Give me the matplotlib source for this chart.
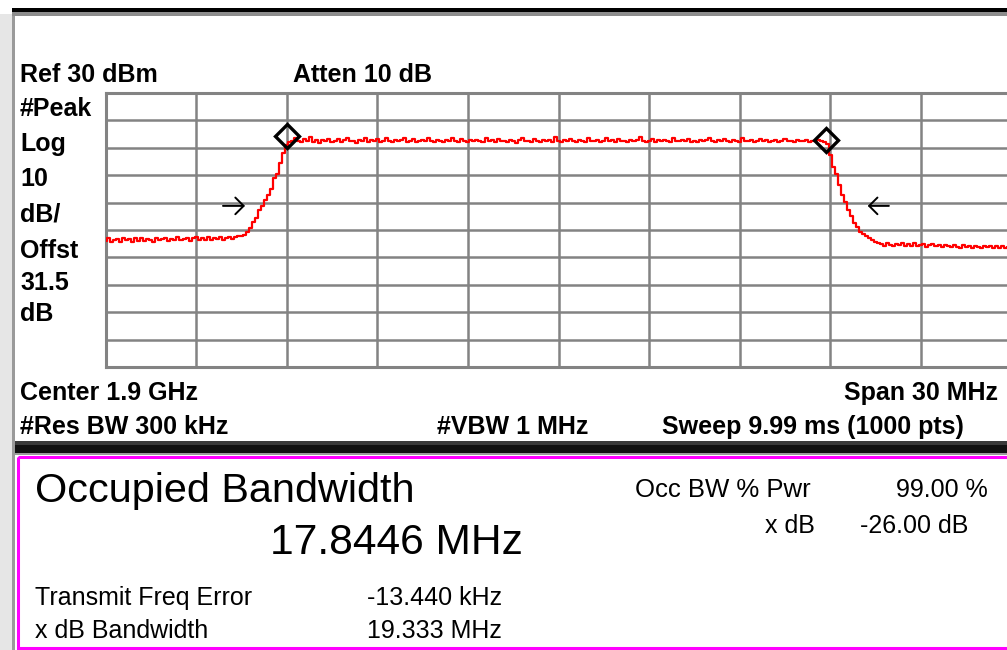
import numpy as np
import matplotlib.pyplot as plt
from matplotlib.patches import Rectangle

plt.rcParams['font.family'] = ['Liberation Sans', 'DejaVu Sans']

# Analyzer settings
center_mhz = 1900.0
span_mhz   = 30.0
ref_dbm    = 30.0
db_div     = 10.0

# Trace levels (dBm), one value every 0.1 MHz from 1885 to 1915 MHz
floor_left = [-23.9, -23.0, -24.3, -23.6, -23.2, -24.2, -22.9, -23.8, -23.4, -24.4,
              -23.1, -23.9, -22.8, -24.0, -23.3, -23.7, -24.2, -23.0, -23.8, -23.4,
              -22.9, -23.9, -23.2, -23.7, -22.7, -23.8, -23.3, -22.8, -23.9, -23.1,
              -22.4, -23.6, -22.9, -23.5, -22.6, -23.7, -22.8, -23.4, -22.7, -23.6,
              -22.9, -22.5, -23.3, -22.7, -22.3, -22.2]
edge_left  = [-21.8, -20.6, -19.2, -17.0, -15.6, -12.8, -11.2, -9.0, -7.2, -5.0,
              -1.2, 0.4, 4.6, 8.2, 11.0, 12.2]
in_band    = [12.3, 13.4, 12.6, 12.0, 13.1, 12.5, 13.8, 12.2, 12.8, 11.9,
              13.0, 12.4, 13.3, 12.0, 12.6, 13.2, 12.2, 12.8, 13.6, 12.3,
              12.6, 11.9, 13.0, 12.5, 13.4, 12.1, 12.8, 12.3, 13.2, 12.0,
              12.5, 13.7, 12.6, 12.0, 13.0, 12.3, 12.8, 13.4, 12.2, 12.6,
              13.2, 12.0, 12.5, 13.0, 12.3, 13.5, 12.6, 12.1, 12.8, 12.5,
              12.0, 13.0, 12.3, 13.4, 12.6, 12.1, 13.2, 12.5, 12.0, 12.8,
              12.3, 13.0, 12.6, 12.1, 13.6, 12.5, 12.8, 12.0, 13.2, 12.3,
              12.6, 12.1, 13.0, 12.5, 11.9, 12.8, 13.4, 12.3, 12.6, 12.0,
              13.2, 12.5, 12.1, 12.8, 12.3, 13.0, 12.0, 13.9, 12.6, 12.1,
              12.8, 12.3, 13.2, 12.5, 12.0, 13.0, 12.6, 12.1, 13.4, 12.5,
              12.3, 13.0, 12.0, 12.6, 13.5, 12.3, 12.8, 12.1, 13.2, 12.5,
              12.6, 12.0, 13.0, 12.3, 12.8, 13.8, 12.5, 12.1, 12.6, 13.2,
              12.0, 12.8, 12.3, 13.0, 12.5, 12.1, 13.4, 12.6, 12.3, 12.8,
              12.5, 13.2, 12.1, 12.6, 12.0, 13.0, 12.3, 12.8, 13.5, 12.5,
              12.1, 12.8, 12.5, 13.2, 12.3, 12.0, 13.0, 12.6, 12.1, 13.4,
              12.5, 12.3, 13.0, 12.0, 12.6, 13.2, 12.3, 12.8, 12.1, 12.6,
              13.0, 12.1, 12.5, 13.2, 12.3, 12.6, 12.0, 12.8, 12.5, 12.3,
              13.0, 12.1, 12.6, 12.3, 12.8, 12.5, 12.2]
edge_right = [11.4, 7.2, 3.0, 0.4, -3.6, -7.4, -9.8, -12.6, -15.0, -17.4,
              -19.0, -20.6, -21.6, -22.2, -22.9, -23.6, -24.2, -24.8]
floor_right = [-25.0, -25.8, -24.7, -25.4, -26.0, -25.1, -25.6, -24.8, -25.9, -25.2,
               -25.7, -24.9, -26.0, -25.3, -25.0, -26.1, -25.5, -25.2, -25.9, -25.6,
               -26.2, -25.3, -25.9, -26.3, -25.5, -26.1, -26.4, -25.6, -26.2, -25.8,
               -26.5, -25.8, -26.2, -26.6, -25.7, -26.3, -25.9, -26.7, -26.0, -26.4,
               -25.8, -26.6, -26.2, -25.9]
trace = np.array(floor_left + edge_left + in_band + edge_right + floor_right)
freqs = np.linspace(center_mhz - span_mhz / 2, center_mhz + span_mhz / 2, len(trace))

# OBW markers (diamonds) and x dB arrows
marker_f   = [1891.02, 1908.86]
marker_db  = [14.3, 12.9]
arrow_db   = -11.2
arrow_left = (1888.89, 1889.62)     # tail, tip
arrow_right = (1910.94, 1910.24)

fig = plt.figure(figsize=(10.07, 6.5), dpi=100)
W, H = 1007.0, 650.0

# full-figure overlay in pixel units for the instrument frame and text
bg = fig.add_axes([0, 0, 1, 1])
bg.set_xlim(0, W)
bg.set_ylim(H, 0)
bg.axis('off')
bg.add_patch(Rectangle((0, 14), 12, H - 14, color='#e6e6e6', lw=0))
bg.add_patch(Rectangle((12, 12), 3, H - 12, color='#9a9a9a', lw=0))
bg.add_patch(Rectangle((12, 8), W - 12, 3.5, color='#000000', lw=0))
bg.add_patch(Rectangle((12, 11.5), W - 12, 4.5, color='#8c8c8c', lw=0))
bg.add_patch(Rectangle((15, 441), W - 15, 4, color='#3a3a3a', lw=0))
bg.add_patch(Rectangle((15, 445), W - 15, 8, color='#111111', lw=0))
bg.add_patch(Rectangle((15, 453), W - 15, 2, color='#9a9a9a', lw=0))
bg.add_patch(Rectangle((18, 456.5), W, 191, fill=False, ec='#ff00ff', lw=2.2))

hdr = dict(fontsize=18, fontweight='bold', color='black', va='baseline')
bg.text(20, 82, 'Ref 30 dBm', **hdr)
bg.text(293, 82, 'Atten 10 dB', **hdr)
left_lbl = ['#Peak', 'Log', '10', 'dB/', 'Offst', '31.5', 'dB']
left_y   = [116, 151, 186, 221, 258, 290, 321]
for s, y in zip(left_lbl, left_y):
    bg.text(20, y, s, **hdr)
bg.text(20, 400, 'Center 1.9 GHz', **hdr)
bg.text(998, 400, 'Span 30 MHz', ha='right', **hdr)
bg.text(20, 434, '#Res BW 300 kHz', **hdr)
bg.text(437, 434, '#VBW 1 MHz', **hdr)
bg.text(662, 434, 'Sweep 9.99 ms (1000 pts)', **hdr)

big = dict(fontsize=29.8, color='black', va='baseline')
sml = dict(fontsize=18, color='black', va='baseline')
bg.text(35, 502, 'Occupied Bandwidth', **big)
bg.text(270, 554, '17.8446 MHz', fontsize=30.6, color='black', va='baseline')
bg.text(635, 497, 'Occ BW % Pwr', fontsize=18.5, color='black', va='baseline')
bg.text(988, 497, '99.00 %', ha='right', **sml)
bg.text(815, 533, 'x dB', ha='right', **sml)
bg.text(968, 533, '-26.00 dB', ha='right', **sml)
bg.text(35, 605, 'Transmit Freq Error', **sml)
bg.text(502, 605, '-13.440 kHz', ha='right', **sml)
bg.text(35, 638, 'x dB Bandwidth', **sml)
bg.text(502, 638, '19.333 MHz', ha='right', **sml)

# graticule: 10 x 10 divisions, right edge runs just past the screen
x0, x1, y0, y1 = 105.5, 1011.5, 93.0, 367.0
ax = fig.add_axes([x0 / W, 1 - y1 / H, (x1 - x0) / W, (y1 - y0) / H])
ax.set_facecolor('white')
ax.set_xlim(center_mhz - span_mhz / 2, center_mhz + span_mhz / 2)
ax.set_ylim(ref_dbm - 10 * db_div, ref_dbm)
ax.set_xticks(np.linspace(center_mhz - span_mhz / 2, center_mhz + span_mhz / 2, 11))
ax.set_yticks(np.arange(ref_dbm - 10 * db_div, ref_dbm + 1, db_div))
ax.grid(True, color='#838383', lw=1.8)
ax.tick_params(length=0, labelbottom=False, labelleft=False)
for sp in ax.spines.values():
    sp.set_color('#838383')
    sp.set_linewidth(2.2)

ax.plot(freqs, trace, color='#ff0000', lw=1.6, drawstyle='steps-mid', zorder=3)
ax.plot(marker_f, marker_db, ls='none', marker='D', ms=12, mfc='none',
        mec='black', mew=2.4, zorder=4)
for tail, tip in [arrow_left, arrow_right]:
    ax.annotate('', xy=(tip, arrow_db), xytext=(tail, arrow_db),
                arrowprops=dict(arrowstyle='->,head_length=0.6,head_width=0.6',
                                color='black', lw=1.4, mutation_scale=10,
                                shrinkA=0, shrinkB=0), zorder=4)

fig.savefig('out.png', dpi=100)
